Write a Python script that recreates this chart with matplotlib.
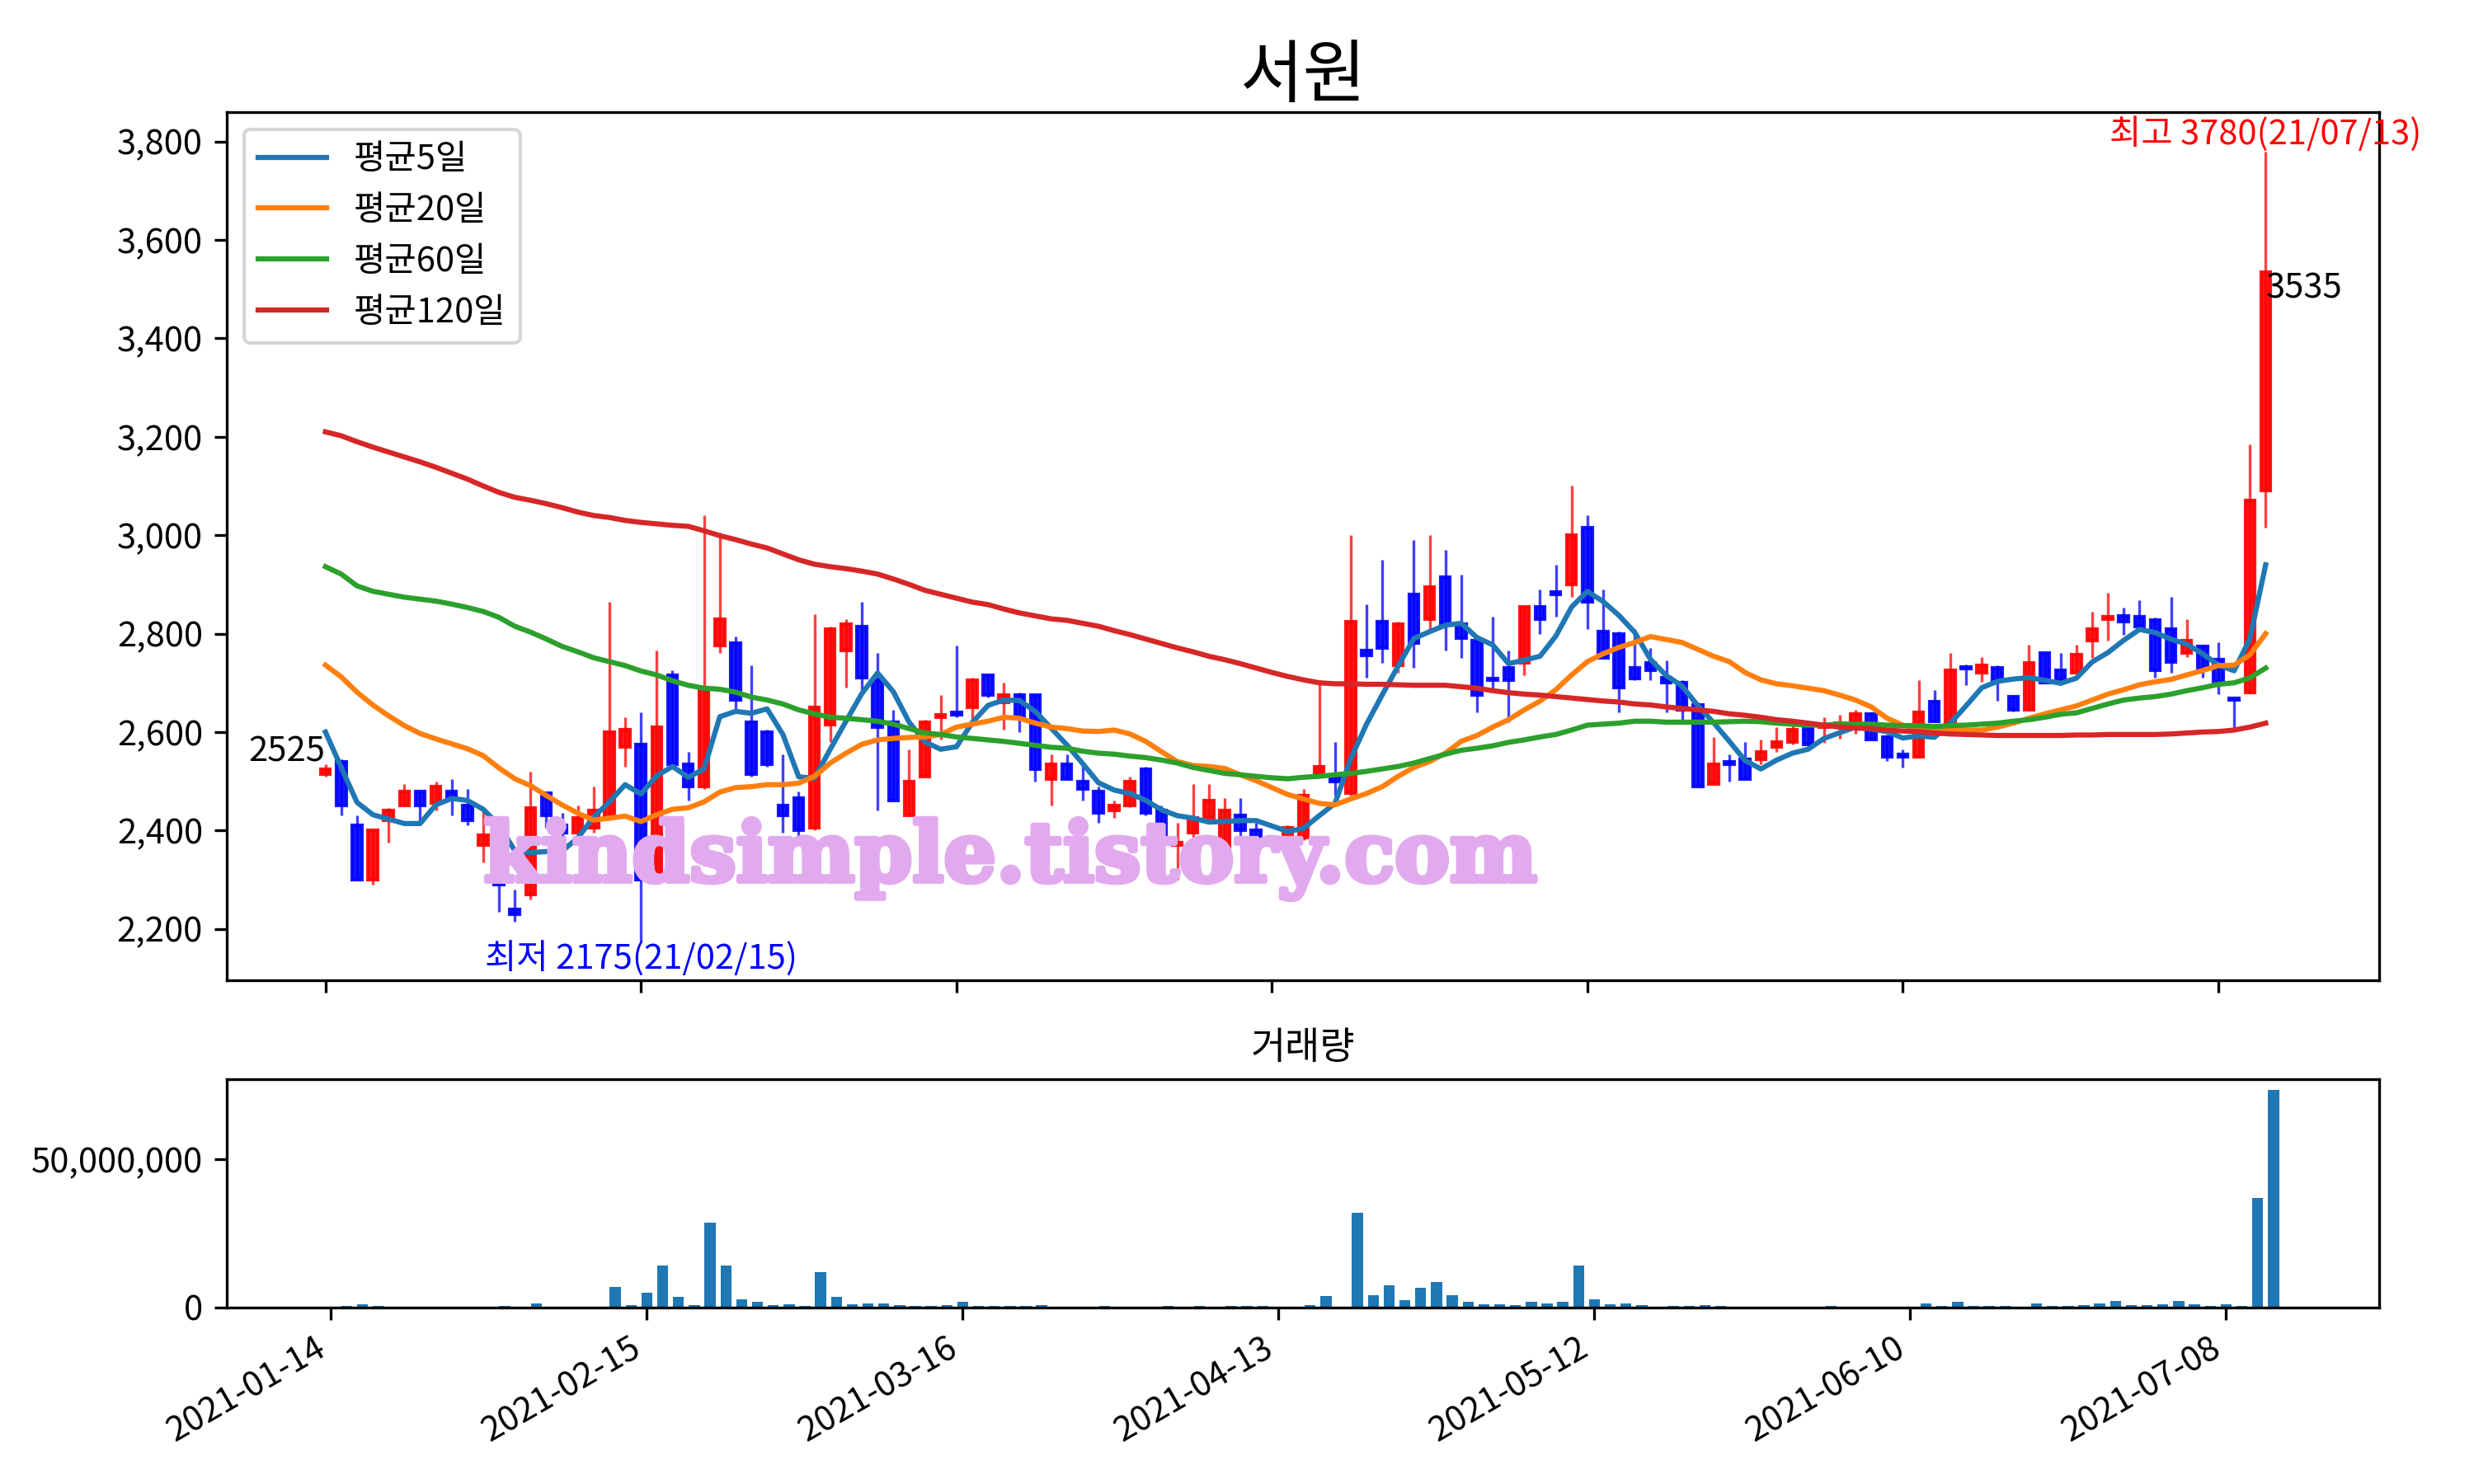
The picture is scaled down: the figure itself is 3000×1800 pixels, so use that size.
import numpy as np
import pandas as pd
import matplotlib
matplotlib.use('Agg')
import matplotlib.pyplot as plt
import matplotlib.patheffects as pe
from matplotlib.ticker import FuncFormatter, MultipleLocator

plt.rcParams['font.family'] = ['Noto Sans CJK KR', 'DejaVu Sans']
plt.rcParams['axes.unicode_minus'] = False

# daily prices (2021-01-14 .. 2021-07-13), one value per trading day
opens = [2515, 2540, 2410, 2300, 2420, 2450, 2480, 2455, 2480, 2450,
         2370, 2395, 2240, 2270, 2475, 2410, 2395, 2405, 2425, 2570,
         2575, 2310, 2715, 2535, 2490, 2775, 2780, 2620, 2600, 2450,
         2465, 2405, 2615, 2765, 2815, 2705, 2620, 2430, 2510, 2630,
         2640, 2650, 2715, 2660, 2675, 2675, 2505, 2535, 2500, 2480,
         2440, 2450, 2525, 2440, 2370, 2395, 2425, 2365, 2430, 2400,
         2375, 2385, 2385, 2515, 2510, 2475, 2765, 2825, 2735, 2880,
         2830, 2915, 2820, 2785, 2708, 2730, 2740, 2855, 2885, 2900,
         3015, 2805, 2800, 2730, 2740, 2710, 2700, 2655, 2495, 2540,
         2545, 2545, 2570, 2580, 2607, 2610, 2612, 2618, 2637, 2590,
         2555, 2550, 2662, 2616, 2732, 2720, 2731, 2672, 2645, 2760,
         2725, 2720, 2786, 2830, 2836, 2835, 2827, 2810, 2760, 2774,
         2748, 2668, 2680, 3090]
highs = [2535, 2545, 2430, 2400, 2445, 2495, 2480, 2500, 2505, 2485,
         2440, 2395, 2280, 2520, 2475, 2435, 2450, 2490, 2865, 2630,
         2640, 2765, 2725, 2560, 3040, 3005, 2795, 2735, 2605, 2555,
         2480, 2840, 2815, 2830, 2865, 2760, 2645, 2565, 2625, 2675,
         2775, 2710, 2718, 2700, 2680, 2677, 2555, 2555, 2535, 2490,
         2460, 2510, 2530, 2450, 2415, 2495, 2495, 2465, 2465, 2415,
         2390, 2410, 2485, 2705, 2580, 3000, 2860, 2950, 2825, 2990,
         3000, 2970, 2920, 2785, 2835, 2765, 2855, 2890, 2940, 3100,
         3040, 2890, 2805, 2810, 2770, 2745, 2705, 2660, 2590, 2555,
         2580, 2585, 2610, 2615, 2615, 2630, 2635, 2645, 2640, 2595,
         2565, 2705, 2685, 2760, 2737, 2753, 2735, 2675, 2778, 2762,
         2760, 2778, 2845, 2883, 2853, 2868, 2832, 2874, 2830, 2778,
         2782, 2668, 3185, 3780]
lows = [2510, 2430, 2300, 2290, 2375, 2450, 2415, 2440, 2430, 2410,
        2335, 2235, 2215, 2260, 2405, 2380, 2390, 2395, 2420, 2530,
        2175, 2300, 2530, 2460, 2485, 2760, 2640, 2510, 2530, 2395,
        2385, 2400, 2580, 2690, 2685, 2440, 2460, 2430, 2510, 2585,
        2630, 2620, 2670, 2605, 2600, 2500, 2450, 2505, 2460, 2415,
        2425, 2448, 2430, 2350, 2300, 2380, 2425, 2355, 2380, 2370,
        2365, 2375, 2380, 2510, 2470, 2470, 2710, 2740, 2720, 2730,
        2810, 2765, 2750, 2640, 2685, 2620, 2715, 2800, 2835, 2875,
        2810, 2750, 2640, 2705, 2705, 2640, 2625, 2490, 2495, 2500,
        2505, 2535, 2560, 2575, 2570, 2578, 2587, 2596, 2584, 2542,
        2528, 2548, 2620, 2615, 2695, 2702, 2663, 2642, 2645, 2698,
        2696, 2718, 2750, 2786, 2798, 2812, 2710, 2720, 2753, 2710,
        2677, 2607, 2678, 3015]
closes = [2525, 2450, 2300, 2400, 2440, 2480, 2450, 2490, 2465, 2420,
          2390, 2290, 2230, 2445, 2430, 2395, 2425, 2440, 2600, 2605,
          2300, 2610, 2535, 2490, 2690, 2830, 2665, 2515, 2535, 2430,
          2400, 2650, 2810, 2820, 2710, 2610, 2460, 2500, 2620, 2635,
          2635, 2705, 2675, 2675, 2630, 2525, 2535, 2505, 2485, 2435,
          2450, 2500, 2435, 2390, 2375, 2425, 2460, 2440, 2400, 2375,
          2370, 2405, 2470, 2530, 2500, 2825, 2755, 2770, 2820, 2780,
          2895, 2820, 2790, 2675, 2705, 2705, 2855, 2830, 2880, 3000,
          2865, 2750, 2690, 2708, 2725, 2700, 2645, 2490, 2535, 2535,
          2505, 2560, 2580, 2605, 2575, 2615, 2618, 2637, 2584, 2550,
          2550, 2640, 2622, 2725, 2728, 2735, 2705, 2645, 2740, 2700,
          2705, 2757, 2810, 2835, 2825, 2815, 2725, 2743, 2785, 2727,
          2702, 2665, 3070, 3535]
# volume in millions of shares
volume_mil = [0.2, 0.56, 1.0, 0.5, 0.15, 0.15, 0.15, 0.15, 0.15, 0.15,
              0.15, 0.45, 0.15, 1.5, 0.15, 0.15, 0.15, 0.15, 6.8, 0.9,
              4.9, 14.1, 3.7, 0.75, 28.5, 14.1, 2.7, 1.8, 0.75, 1.2,
              0.45, 11.9, 3.7, 1.2, 1.5, 1.5, 0.75, 0.45, 0.45, 0.75,
              1.8, 0.45, 0.45, 0.45, 0.45, 0.75, 0.1, 0.1, 0.1, 0.45,
              0.1, 0.1, 0.1, 0.45, 0.1, 0.45, 0.1, 0.45, 0.45, 0.45,
              0.1, 0.1, 0.75, 3.8, 0.2, 31.8, 4.1, 7.5, 2.4, 6.6,
              8.6, 4.1, 1.9, 1.0, 1.0, 0.75, 1.9, 1.3, 1.9, 14.2,
              2.7, 1.0, 1.3, 0.75, 0.2, 0.45, 0.45, 0.75, 0.45, 0.1,
              0.1, 0.1, 0.1, 0.1, 0.1, 0.45, 0.1, 0.1, 0.1, 0.1,
              0.1, 1.3, 0.45, 1.9, 0.45, 0.45, 0.45, 0.1, 1.3, 0.45,
              0.45, 0.75, 1.3, 2.1, 0.75, 0.75, 1.0, 2.1, 1.0, 0.45,
              1.0, 0.45, 36.9, 73.2]

# moving averages (MA5 after the 4th day from closes)
ma5_head = [2600, 2528, 2457, 2432]
ma20 = [2736, 2712, 2681, 2655, 2633, 2613, 2597, 2586, 2576, 2566,
        2552, 2527, 2505, 2491, 2471, 2452, 2435, 2421, 2425, 2429,
        2418, 2432, 2443, 2446, 2458, 2478, 2487, 2489, 2493, 2493,
        2496, 2510, 2537, 2557, 2575, 2584, 2587, 2589, 2590, 2595,
        2610, 2616, 2622, 2630, 2628, 2618, 2610, 2607, 2602, 2601,
        2604, 2596, 2581, 2560, 2540, 2532, 2530, 2526, 2513, 2501,
        2487, 2473, 2464, 2455, 2452, 2464, 2475, 2489, 2510, 2528,
        2540, 2557, 2581, 2593, 2610, 2625, 2645, 2663, 2686, 2716,
        2743, 2759, 2772, 2782, 2794, 2788, 2782, 2768, 2754, 2743,
        2721, 2706, 2698, 2694, 2689, 2684, 2675, 2665, 2651, 2628,
        2614, 2608, 2604, 2604, 2604, 2604, 2610, 2618, 2628, 2637,
        2645, 2653, 2665, 2677, 2686, 2696, 2702, 2707, 2716, 2725,
        2735, 2736, 2757, 2800]
ma60 = [2936, 2921, 2897, 2886, 2880, 2874, 2870, 2866, 2860, 2853,
        2845, 2833, 2815, 2803, 2789, 2774, 2763, 2751, 2743, 2735,
        2724, 2716, 2704, 2695, 2689, 2687, 2681, 2671, 2665, 2657,
        2645, 2637, 2630, 2628, 2625, 2622, 2616, 2607, 2598, 2595,
        2590, 2587, 2584, 2581, 2577, 2573, 2569, 2567, 2561, 2557,
        2555, 2551, 2548, 2543, 2537, 2528, 2522, 2516, 2513, 2510,
        2507, 2505, 2508, 2510, 2513, 2516, 2520, 2525, 2530, 2537,
        2546, 2555, 2563, 2567, 2572, 2579, 2584, 2590, 2595, 2604,
        2614, 2616, 2618, 2622, 2622, 2620, 2620, 2620, 2620, 2621,
        2622, 2621, 2618, 2616, 2614, 2614, 2616, 2616, 2616, 2614,
        2613, 2613, 2611, 2613, 2614, 2616, 2618, 2622, 2625, 2630,
        2636, 2639, 2648, 2657, 2665, 2669, 2672, 2677, 2684, 2690,
        2697, 2700, 2710, 2730]
ma120 = [3210, 3202, 3190, 3179, 3169, 3159, 3149, 3138, 3126, 3114,
         3100, 3087, 3077, 3071, 3064, 3056, 3047, 3040, 3036, 3030,
         3026, 3023, 3020, 3018, 3009, 2999, 2991, 2982, 2974, 2962,
         2950, 2941, 2936, 2932, 2927, 2921, 2911, 2900, 2888, 2880,
         2872, 2864, 2859, 2850, 2842, 2836, 2830, 2827, 2821, 2815,
         2806, 2798, 2789, 2780, 2771, 2763, 2754, 2747, 2739, 2730,
         2721, 2713, 2706, 2700, 2698, 2698, 2697, 2697, 2696, 2695,
         2695, 2695, 2692, 2689, 2684, 2680, 2677, 2675, 2672, 2669,
         2666, 2663, 2661, 2657, 2655, 2651, 2648, 2645, 2642, 2637,
         2634, 2630, 2625, 2622, 2618, 2614, 2610, 2608, 2607, 2604,
         2602, 2601, 2598, 2596, 2595, 2594, 2593, 2593, 2593, 2593,
         2593, 2594, 2594, 2595, 2595, 2595, 2595, 2596, 2598, 2600,
         2601, 2604, 2610, 2618]

tick_pos = [0, 20, 40, 60, 80, 100, 120]
tick_labels = ['2021-01-14', '2021-02-15', '2021-03-16', '2021-04-13',
               '2021-05-12', '2021-06-10', '2021-07-08']
low_date = '21/02/15'
high_date = '21/07/13'

o = np.array(opens)
h = np.array(highs)
l = np.array(lows)
c = np.array(closes)
x = np.arange(len(c))

ma5 = pd.Series(c).rolling(5).mean().to_numpy()
ma5[:4] = ma5_head

fig = plt.figure(figsize=(10, 6), dpi=300)
ax = fig.add_axes([0.0917, 0.3392, 0.87, 0.5854])
axv = fig.add_axes([0.0917, 0.1189, 0.87, 0.1539])

# candles
cols = np.where(c >= o, 'red', 'blue')
ax.vlines(x, l, h, colors=cols, linewidth=0.8, alpha=0.75)
ax.bar(x, np.abs(c - o), bottom=np.minimum(o, c), width=0.6,
       color=cols, edgecolor=cols, linewidth=1, alpha=0.9)

ax.plot(x, ma5, label='평균5일')
ax.plot(x, ma20, label='평균20일')
ax.plot(x, ma60, label='평균60일')
ax.plot(x, ma120, label='평균120일')
ax.legend(loc='upper left')

# labels for first / last close and extremes
ax.text(x[0], c[0], f'{c[0]}', ha='right', va='bottom', fontsize=10)
ax.text(x[-1], c[-1], f'{c[-1]}', ha='left', va='top', fontsize=10)
imax = int(np.argmax(h))
imin = int(np.argmin(l))
ax.text(x[imax], h[imax], f'최고 {h[imax]}({high_date})', color='red',
        ha='center', va='bottom', fontsize=10)
ax.text(x[imin], l[imin], f'최저 {l[imin]}({low_date})', color='blue',
        ha='center', va='top', fontsize=10)

# blog watermark
wm_color = '#e2aaee'
ax.text(0.364, 0.14, 'kindsimple.tistory.com', transform=ax.transAxes,
        ha='center', va='center', fontsize=24, fontweight='bold',
        family='DejaVu Serif', color=wm_color, zorder=10,
        path_effects=[pe.withStroke(linewidth=1.5, foreground=wm_color)])

comma = FuncFormatter(lambda v, p: f'{v:,.0f}')
ax.set_title('서원', fontsize=20, pad=4)
ax.set_xlim(-6.25, 130.2)
ax.set_xticks(tick_pos)
ax.tick_params(labelbottom=False)
ax.yaxis.set_major_locator(MultipleLocator(200))
ax.yaxis.set_major_formatter(comma)

# volume panel
axv.bar(x, np.array(volume_mil) * 1e6, width=0.7, color='C0')
axv.set_title('거래량', fontsize=11)
axv.set_xlim(-6.6, 129.7)
axv.set_xticks(tick_pos)
axv.set_xticklabels(tick_labels, rotation=30, ha='right')
axv.yaxis.set_major_locator(MultipleLocator(5e7))
axv.yaxis.set_major_formatter(comma)

fig.savefig('out.png', dpi=300)
